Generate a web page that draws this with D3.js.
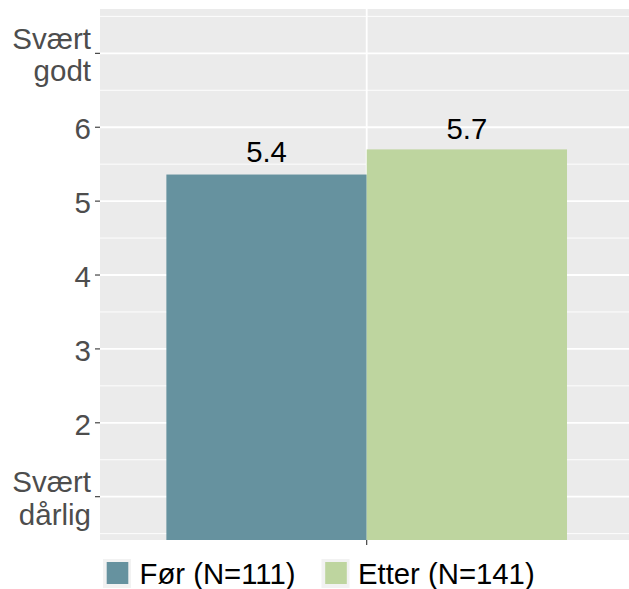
<!DOCTYPE html>
<html>
<head>
<meta charset="utf-8">
<script src="https://cdn.jsdelivr.net/npm/d3@7"></script>
<style>
  html, body { margin: 0; padding: 0; background: #fff; }
  svg { display: block; font-family: "Liberation Sans", Arial, Helvetica, sans-serif; }
</style>
</head>
<body>
<svg id="chart" width="629" height="589"></svg>
<script>
// Mean rating before and after
const groups = ["Før (N=111)", "Etter (N=141)"];
const means = [5.36, 5.70];
const colors = ["#66929f", "#bed59f"];
const yTicks = [1, 2, 3, 4, 5, 6, 7];
const yTickLabels = [["Svært", "dårlig"], ["2"], ["3"], ["4"], ["5"], ["6"], ["Svært", "godt"]];
const yMinor = [0.5, 1.5, 2.5, 3.5, 4.5, 5.5, 6.5, 7.5];

const svg = d3.select("#chart");
const panel = { left: 100, right: 633.4, top: 9, bottom: 540 };

const y = d3.scaleLinear().domain([0.414, 7.60]).range([panel.bottom, panel.top]);

// single x category, bars dodged inside it
const xOuter = d3.scaleBand().domain(["all"]).range([panel.left, panel.right])
  .paddingInner(0).paddingOuter(0.1657);
const xInner = d3.scaleBand().domain(groups).range([0, xOuter.bandwidth()]).padding(0);

const defs = svg.append("defs");
defs.append("clipPath").attr("id", "panelClip").append("rect")
  .attr("x", panel.left).attr("y", panel.top)
  .attr("width", panel.right - panel.left).attr("height", panel.bottom - panel.top);

// panel background
svg.append("rect")
  .attr("x", panel.left).attr("y", panel.top)
  .attr("width", panel.right - panel.left).attr("height", panel.bottom - panel.top)
  .attr("fill", "#ebebeb");

const grid = svg.append("g").attr("clip-path", "url(#panelClip)");
grid.selectAll("line.minor").data(yMinor).join("line")
  .attr("class", "minor")
  .attr("x1", panel.left).attr("x2", panel.right)
  .attr("y1", d => y(d)).attr("y2", d => y(d))
  .attr("stroke", "#fff").attr("stroke-width", 0.9);
grid.selectAll("line.major").data(yTicks).join("line")
  .attr("class", "major")
  .attr("x1", panel.left).attr("x2", panel.right)
  .attr("y1", d => y(d)).attr("y2", d => y(d))
  .attr("stroke", "#fff").attr("stroke-width", 1.8);
const xc = xOuter("all") + xOuter.bandwidth() / 2;
grid.append("line")
  .attr("x1", xc).attr("x2", xc).attr("y1", panel.top).attr("y2", panel.bottom)
  .attr("stroke", "#fff").attr("stroke-width", 1.8);

// bars
const bars = svg.append("g").attr("clip-path", "url(#panelClip)");
bars.selectAll("rect").data(groups).join("rect")
  .attr("x", d => xOuter("all") + xInner(d))
  .attr("width", xInner.bandwidth())
  .attr("y", (d, i) => y(means[i]))
  .attr("height", (d, i) => panel.bottom - y(means[i]))
  .attr("fill", (d, i) => colors[i]);

// value labels
svg.append("g").selectAll("text").data(groups).join("text")
  .attr("x", d => xOuter("all") + xInner(d) + xInner.bandwidth() / 2)
  .attr("y", (d, i) => y(+d3.format(".1f")(means[i])) - 10)
  .attr("text-anchor", "middle")
  .attr("font-size", 29.3)
  .attr("fill", "#000")
  .text((d, i) => d3.format(".1f")(means[i]));

// y axis
const yAxis = svg.append("g");
yAxis.selectAll("line").data(yTicks).join("line")
  .attr("x1", panel.left - 5).attr("x2", panel.left)
  .attr("y1", d => y(d)).attr("y2", d => y(d))
  .attr("stroke", "#333").attr("stroke-width", 1.1);
const lineGap = 32.5;
yAxis.selectAll("text").data(yTicks).join("text")
  .attr("x", 91)
  .attr("text-anchor", "end")
  .attr("font-size", 29.5)
  .attr("fill", "#4d4d4d")
  .each(function (d, i) {
    const lines = yTickLabels[i];
    const n = lines.length;
    const t = d3.select(this);
    lines.forEach((s, k) => {
      t.append("tspan")
        .attr("x", 91)
        .attr("y", y(d) + 11.8 + (k - (n - 1) / 2) * lineGap)
        .text(s);
    });
  });

// x axis tick
svg.append("line")
  .attr("x1", xc).attr("x2", xc).attr("y1", panel.bottom).attr("y2", panel.bottom + 5)
  .attr("stroke", "#333").attr("stroke-width", 1.1);

// legend
const legend = svg.append("g");
let lx = 103;
groups.forEach((g, i) => {
  const item = legend.append("g");
  item.append("rect")
    .attr("x", lx).attr("y", 559).attr("width", 28).attr("height", 29)
    .attr("fill", "#f2f2f2");
  item.append("rect")
    .attr("x", lx + 3.7).attr("y", 562).attr("width", 21.6).attr("height", 22)
    .attr("fill", colors[i]);
  const txt = item.append("text")
    .attr("x", lx + 36.5).attr("y", 583.5)
    .attr("font-size", 29.3)
    .attr("fill", "#000")
    .text(g);
  lx = lx + 36.5 + txt.node().getComputedTextLength() + 26;
});
</script>
</body>
</html>
